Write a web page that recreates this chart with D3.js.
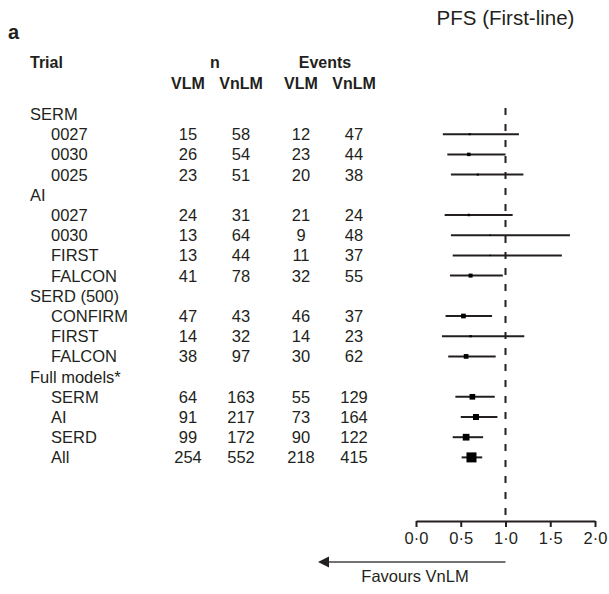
<!DOCTYPE html>
<html lang="en">
  <head>
    <meta charset="UTF-8" />
    <style>
      body {
        margin: 0;
        background: #fff;
      }
      svg {
        font-family: "Liberation Sans", Arial, Helvetica, sans-serif;
        fill: #231f20;
      }
    </style>
    <title>PFS (First-line)</title>
  </head>
  <body>
    <script src="https://cdn.jsdelivr.net/npm/d3@7"></script>
    <script>
      // rows top to bottom; level 0 = group heading, 1 = trial
      const rowLabels = ["SERM", "0027", "0030", "0025", "AI", "0027", "0030", "FIRST", "FALCON",
        "SERD (500)", "CONFIRM", "FIRST", "FALCON", "Full models*", "SERM", "AI", "SERD", "All"];
      const rowLevel = [0, 1, 1, 1, 0, 1, 1, 1, 1, 0, 1, 1, 1, 0, 1, 1, 1, 1];
      const nVLM = [null, 15, 26, 23, null, 24, 13, 13, 41, null, 47, 14, 38, null, 64, 91, 99, 254];
      const nVnLM = [null, 58, 54, 51, null, 31, 64, 44, 78, null, 43, 32, 97, null, 163, 217, 172, 552];
      const evVLM = [null, 12, 23, 20, null, 21, 9, 11, 32, null, 46, 14, 30, null, 55, 73, 90, 218];
      const evVnLM = [null, 47, 44, 38, null, 24, 48, 37, 55, null, 37, 23, 62, null, 129, 164, 122, 415];
      // hazard ratio and 95% CI
      const hr = [null, 0.60, 0.59, 0.69, null, 0.59, 0.83, 0.83, 0.61, null, 0.53, 0.61, 0.56, null, 0.63, 0.67, 0.56, 0.62];
      const lo = [null, 0.30, 0.35, 0.39, null, 0.32, 0.39, 0.41, 0.38, null, 0.33, 0.29, 0.36, null, 0.44, 0.50, 0.41, 0.51];
      const hi = [null, 1.15, 1.00, 1.20, null, 1.08, 1.72, 1.63, 0.97, null, 0.85, 1.21, 0.89, null, 0.88, 0.91, 0.75, 0.74];
      // relative weight (box area)
      const weight = [null, 0.04, 0.12, 0.04, null, 0.06, 0.02, 0.02, 0.16, null, 0.22, 0.05, 0.22, null, 0.32, 0.36, 0.45, 1.0];
      const xTicks = [0, 0.5, 1, 1.5, 2];

      const width = 609;
      const height = 594;
      const ink = "#231f20";

      const svg = d3.select("body").append("svg").attr("width", width).attr("height", height);

      const x = d3.scaleLinear().domain([0, 2]).range([416, 595]);
      const y = d3.scaleLinear().domain([0, rowLabels.length - 1]).range([114, 457.4]);
      const box = d3.scaleSqrt().domain([0, 1]).range([0, 10]);
      const fmt = d => d3.format(".1f")(d).replace(".", "\u00b7");

      svg.append("text").attr("x", 8).attr("y", 39).style("font-weight", "bold")
        .style("font-size", "20px").text("a");
      svg.append("text").attr("x", x(1)).attr("y", 25).attr("text-anchor", "middle")
        .style("font-size", "20.5px").text("PFS (First-line)");

      // column headings
      const head = svg.append("g").style("font-weight", "bold").style("font-size", "16px");
      head.append("text").attr("x", 30).attr("y", 68).text("Trial");
      head.append("text").attr("x", 215).attr("y", 68).attr("text-anchor", "middle").text("n");
      head.append("text").attr("x", 325).attr("y", 68).attr("text-anchor", "middle").text("Events");
      const cols = [188, 241, 301, 354];
      ["VLM", "VnLM", "VLM", "VnLM"].forEach((t, i) => {
        head.append("text").attr("x", cols[i]).attr("y", 89).attr("text-anchor", "middle").text(t);
      });

      // table body
      const body = svg.append("g").style("font-size", "16.5px");
      rowLabels.forEach((lab, i) => {
        const g = body.append("g").attr("transform", `translate(0,${y(i)})`);
        g.append("text").attr("x", rowLevel[i] ? 51 : 30).attr("dy", "0.36em").text(lab);
        [nVLM, nVnLM, evVLM, evVnLM].forEach((arr, j) => {
          if (arr[i] == null) return;
          g.append("text").attr("x", cols[j]).attr("dy", "0.36em")
            .attr("text-anchor", "middle").text(arr[i]);
        });
      });

      // reference line at HR = 1
      svg.append("line").attr("x1", x(1)).attr("x2", x(1)).attr("y1", 108).attr("y2", 521)
        .attr("stroke", ink).attr("stroke-width", 2).attr("stroke-dasharray", "7,9");

      // confidence intervals and boxes
      const idx = d3.range(rowLabels.length).filter(i => hr[i] != null);
      svg.append("g").selectAll("line").data(idx).join("line")
        .attr("x1", i => x(lo[i])).attr("x2", i => x(hi[i]))
        .attr("y1", i => y(i)).attr("y2", i => y(i))
        .attr("stroke", ink).attr("stroke-width", 2);
      svg.append("g").selectAll("rect").data(idx).join("rect")
        .attr("x", i => x(hr[i]) - box(weight[i]) / 2)
        .attr("y", i => y(i) - box(weight[i]) / 2)
        .attr("width", i => box(weight[i])).attr("height", i => box(weight[i]))
        .attr("fill", "#000");

      // axis
      const axis = svg.append("g").attr("transform", "translate(0,521)")
        .call(d3.axisBottom(x).tickValues(xTicks).tickFormat(fmt).tickSize(6).tickPadding(5).tickSizeOuter(0));
      axis.select(".domain").attr("stroke", ink).attr("stroke-width", 2);
      axis.selectAll(".tick line").attr("stroke", ink).attr("stroke-width", 2);
      axis.selectAll(".tick text").attr("fill", ink).style("font-size", "16.5px")
        .style("font-family", "'Liberation Sans', Arial, Helvetica, sans-serif");

      // favours arrow
      svg.append("line").attr("x1", x(1)).attr("x2", 326).attr("y1", 562).attr("y2", 562)
        .attr("stroke", "#444").attr("stroke-width", 1.5);
      svg.append("path").attr("d", "M318,562 L329,556.5 L329,567.5 Z").attr("fill", ink);
      svg.append("text").attr("x", 415).attr("y", 582).attr("text-anchor", "middle")
        .style("font-size", "16.5px").text("Favours VnLM");
    </script>
  </body>
</html>
